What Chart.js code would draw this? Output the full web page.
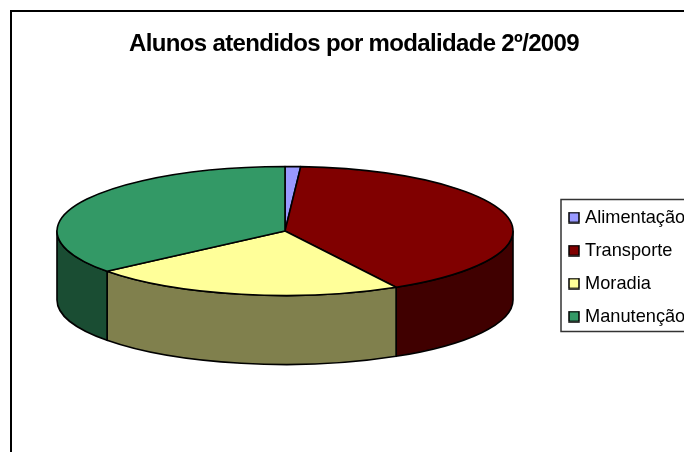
<!DOCTYPE html>
<html><head><meta charset="utf-8">
<style>html,body{margin:0;padding:0;background:#fff;overflow:hidden}canvas{display:block}</style>
<script src="https://cdn.jsdelivr.net/npm/chart.js@4"></script>
</head><body><canvas id="c" width="684" height="452"></canvas>
<script>
const chartTitle = 'Alunos atendidos por modalidade 2º/2009';
const categories = ['Alimentação', 'Transporte', 'Moradia', 'Manutenção'];
const values = [1.1, 40.8, 22.35, 35.75];
const topColors = ['#9999FF', '#800000', '#FFFF99', '#339966'];
const sideColors = ['#4D4D80', '#400000', '#80804D', '#1A4D33'];

const view = {cx: 285, cy: 231, rx: 228, ry: 64.5, depth: 69};

function swatch(color) {
  const s = document.createElement('canvas');
  s.width = 12; s.height = 12;
  const g = s.getContext('2d');
  g.fillStyle = color; g.fillRect(1, 1, 10, 10);
  g.strokeStyle = '#000'; g.lineWidth = 1.5; g.strokeRect(1, 1, 10, 10);
  return s;
}

const pie3d = {
  id: 'pie3d',
  afterLayout(chart) {
    const l = chart.legend;
    l.left = 557.2; l.right = 900; l.top = 193.6; l.bottom = 400;
    const t = chart.titleBlock;
    t.left = 24; t.right = 684;
    if (!t._tight) {
      t._tight = true;
      const draw = t.draw;
      t.draw = function (...args) {
        chart.ctx.letterSpacing = '-0.66px';
        draw.apply(this, args);
        chart.ctx.letterSpacing = '0px';
      };
    }
  },
  beforeDraw(chart) {
    const g = chart.ctx;
    g.save();
    g.fillStyle = '#fff'; g.fillRect(0, 0, 684, 452);
    g.strokeStyle = '#000'; g.lineWidth = 2;
    g.strokeRect(11, 11, 900, 900);
    g.strokeStyle = '#333'; g.lineWidth = 1.5;
    g.strokeRect(561, 199.5, 300, 132);
    g.restore();
  },
  beforeDatasetsDraw(chart) {
    const g = chart.ctx, arcs = chart.getDatasetMeta(0).data;
    const {cx, cy, rx, ry, depth} = view;
    g.save();
    g.lineWidth = 1.6; g.strokeStyle = '#000'; g.lineJoin = 'round';
    arcs.forEach((arc, i) => {
      const a0 = Math.max(arc.startAngle, 0), a1 = Math.min(arc.endAngle, Math.PI);
      if (a0 >= a1) return;
      g.beginPath();
      g.ellipse(cx, cy, rx, ry, 0, a0, a1);
      g.ellipse(cx, cy + depth, rx, ry, 0, a1, a0, true);
      g.closePath();
      g.fillStyle = sideColors[i];
      g.fill(); g.stroke();
    });
    arcs.forEach(arc => {
      const s = rx / arc.outerRadius, k = ry / arc.outerRadius;
      g.save();
      g.translate(cx, cy); g.scale(s, k); g.translate(-arc.x, -arc.y);
      arc.draw(g);
      g.restore();
      g.beginPath();
      g.moveTo(cx, cy);
      g.ellipse(cx, cy, rx, ry, 0, arc.startAngle, arc.endAngle);
      g.closePath();
      g.stroke();
    });
    g.restore();
    return false;
  }
};

new Chart(document.getElementById('c'), {
  type: 'pie',
  data: {labels: categories, datasets: [{data: values, backgroundColor: topColors, borderWidth: 0}]},
  plugins: [pie3d],
  options: {
    responsive: false, animation: false,
    plugins: {
      tooltip: {enabled: false},
      title: {display: true, text: chartTitle, color: '#000',
        font: {family: '"Liberation Sans"', size: 24, weight: 'bold'},
        padding: {top: 29.5, bottom: 10}},
      legend: {display: true, position: 'right', align: 'start',
        labels: {
          usePointStyle: true, boxWidth: 4, boxHeight: 10, padding: 14.8, color: '#000',
          font: {family: '"Liberation Sans"', size: 18.2},
          generateLabels: ch => categories.map((t, i) => ({
            text: t, fillStyle: topColors[i], strokeStyle: '#000', lineWidth: 1, pointStyle: swatch(topColors[i]), index: i, hidden: false
          }))
        }}
    }
  }
});
</script></body></html>
